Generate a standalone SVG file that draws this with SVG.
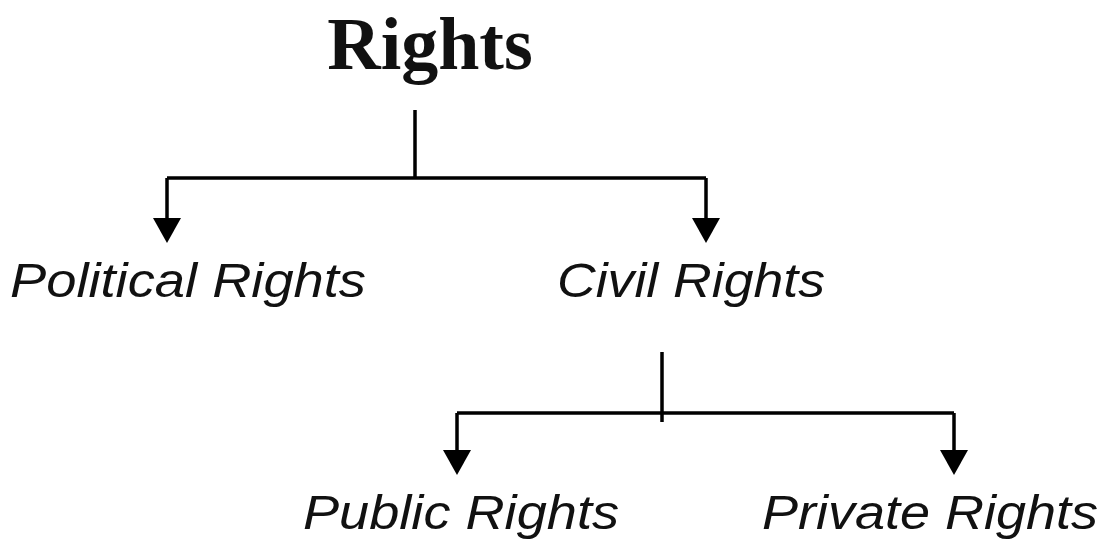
<svg xmlns="http://www.w3.org/2000/svg" width="1110" height="540" viewBox="0 0 1110 540">
<style>
.title{font-family:"Liberation Serif","Times New Roman",serif;font-weight:bold;font-size:74px;fill:#111}
.lbl{font-family:"Liberation Sans",Arial,sans-serif;font-style:italic;font-size:48px;fill:#111}
.ln{stroke:#000;stroke-width:3.5;fill:none}
.ah{fill:#000}
</style>
<rect width="1110" height="540" fill="#fff"/>
<g id="node-rights"><text class="title" x="430" y="69" text-anchor="middle">Rights</text></g>
<g id="node-political"><text class="lbl" x="10" y="297" textLength="356" lengthAdjust="spacingAndGlyphs">Political Rights</text></g>
<g id="node-civil"><text class="lbl" x="557" y="297" textLength="268" lengthAdjust="spacingAndGlyphs">Civil Rights</text></g>
<g id="node-public"><text class="lbl" x="303" y="529" textLength="316" lengthAdjust="spacingAndGlyphs">Public Rights</text></g>
<g id="node-private"><text class="lbl" x="762" y="529" textLength="336" lengthAdjust="spacingAndGlyphs">Private Rights</text></g>
<g id="connectors">
<path class="ln" d="M415 110 V178 M167 178 H706 M167 178 V222 M706 178 V222"/>
<path class="ah" d="M153 218 L181 218 L167 243 Z"/>
<path class="ah" d="M692 218 L720 218 L706 243 Z"/>
<path class="ln" d="M662 352 V422 M457 413 H954 M457 413 V452 M954 413 V452"/>
<path class="ah" d="M443 450 L471 450 L457 475 Z"/>
<path class="ah" d="M940 450 L968 450 L954 475 Z"/>
</g>
</svg>
